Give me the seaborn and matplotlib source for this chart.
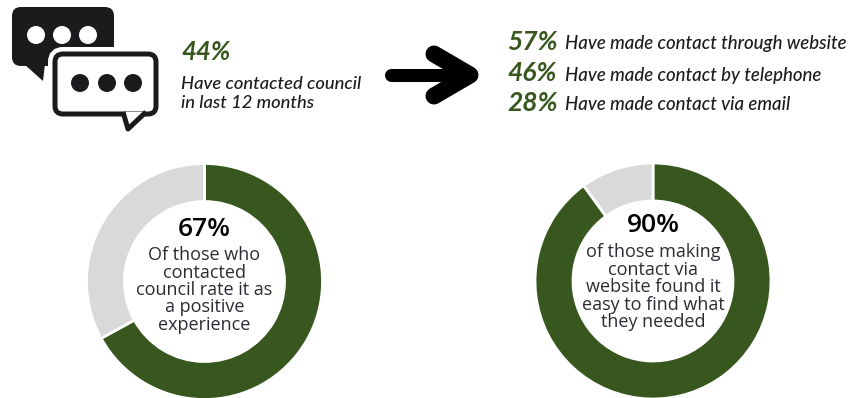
import matplotlib
matplotlib.use("Agg")
import matplotlib.pyplot as plt
from matplotlib.patches import FancyBboxPatch, Polygon, Circle
import seaborn as sns

sns.set_theme(style="white")

GREEN = "#38571f"
GREY = "#d9d9d9"
INK = "#1c1c1c"
BODY = "#2b2b33"

W, H = 848, 398

# Survey figures
contacted_pct = 44
contacted_label = ["Have contacted council", "in last 12 months"]
channel_pct = [57, 46, 28]
channel_labels = [
    "Have made contact through website",
    "Have made contact by telephone",
    "Have made contact via email",
]
donut_pct = [67, 90]
donut_captions = [
    ["Of those who", "contacted", "council rate it as", "a positive", "experience"],
    ["of those making", "contact via", "website found it", "easy to find what", "they needed"],
]

fig = plt.figure(figsize=(W / 100, H / 100), dpi=100, facecolor="white")


def px_axes(cx, cy, r):
    return fig.add_axes([(cx - r) / W, 1 - (cy + r) / H, 2 * r / W, 2 * r / H])


# Ring charts, filled clockwise from twelve o'clock
centres = [(204.5, 281.5), (653, 281)]
for (cx, cy), pct in zip(centres, donut_pct):
    r = 118
    ax = px_axes(cx, cy, r)
    ax.pie(
        [pct, 100 - pct],
        colors=[GREEN, GREY],
        startangle=90,
        counterclock=False,
        radius=1.0,
        wedgeprops=dict(width=38 / r, edgecolor="white", linewidth=2),
    )
    ax.set_xlim(-1, 1)
    ax.set_ylim(-1, 1)
    ax.set_axis_off()

# Overlay in pixel coordinates for the icons and text
ov = fig.add_axes([0, 0, 1, 1], facecolor="none")
ov.set_xlim(0, W)
ov.set_ylim(H, 0)
ov.set_axis_off()

PT = 72 / 100
DARK = "#1b1b1d"

# Speech bubbles
ov.add_patch(FancyBboxPatch((19, 14), 88, 45, boxstyle="round,pad=7,rounding_size=9",
                            fc=DARK, ec="none", zorder=2))
ov.add_patch(Polygon([(24, 64), (43, 81), (45, 64)], fc=DARK, ec="none", zorder=2))
for x in (36, 62, 88):
    ov.add_patch(Circle((x, 35), 9, fc="white", ec="none", zorder=3))

ov.add_patch(FancyBboxPatch((60, 59), 91, 50, boxstyle="round,pad=5,rounding_size=8",
                            fc="white", ec="white", lw=14 * PT, zorder=4))
ov.add_patch(FancyBboxPatch((60, 59), 91, 50, boxstyle="round,pad=5,rounding_size=8",
                            fc="white", ec=DARK, lw=5 * PT, zorder=5))
ov.add_patch(Polygon([(123, 112), (128, 129), (146, 112)], closed=False,
                     fc="white", ec=DARK, lw=5 * PT, joinstyle="round", zorder=6))
for x in (80, 107, 133):
    ov.add_patch(Circle((x, 83), 9, fc=DARK, ec="none", zorder=7))

# Arrow between the headline figure and the channel breakdown
ov.plot([391, 468], [75, 75], color="black", lw=13 * PT, solid_capstyle="round", zorder=2)
ov.plot([434, 470, 434], [54, 75, 96], color="black", lw=17 * PT,
        solid_capstyle="round", solid_joinstyle="round", zorder=2)

# Headline figure
ov.text(181, 52, f"{contacted_pct}%", color=GREEN, family="Lato", style="italic",
        weight="bold", fontsize=18.5, ha="left", va="center", zorder=8)
for y, line in zip((84, 103), contacted_label):
    ov.text(181, y, line, color=INK, family="Lato", style="italic", weight="medium",
            fontsize=13.2, ha="left", va="center", zorder=8)

# Contact channels
for y, pct, line in zip((42, 73, 103), channel_pct, channel_labels):
    ov.text(507, y, f"{pct}%", color=GREEN, family="Lato", style="italic", weight="bold",
            fontsize=19, ha="left", va="center", zorder=8)
    ov.text(565, y + 2, line, color=INK, family="Lato", style="italic", weight="medium",
            fontsize=13.4, ha="left", va="center", zorder=8)

# Captions inside the rings
head_y = [229, 226]
line_ys = [[255, 273, 290, 307, 325], [252, 270, 287, 305, 322]]
for (cx, _), pct, hy, ys, caption in zip(centres, donut_pct, head_y, line_ys, donut_captions):
    ov.text(cx, hy, f"{pct}%", color="black", family="Open Sans", weight="semibold",
            fontsize=19, ha="center", va="center", zorder=8)
    for y, line in zip(ys, caption):
        ov.text(cx, y, line, color=BODY, family="Open Sans", fontsize=13,
                ha="center", va="center", zorder=8)

fig.savefig("out.png", dpi=100, facecolor="white")
